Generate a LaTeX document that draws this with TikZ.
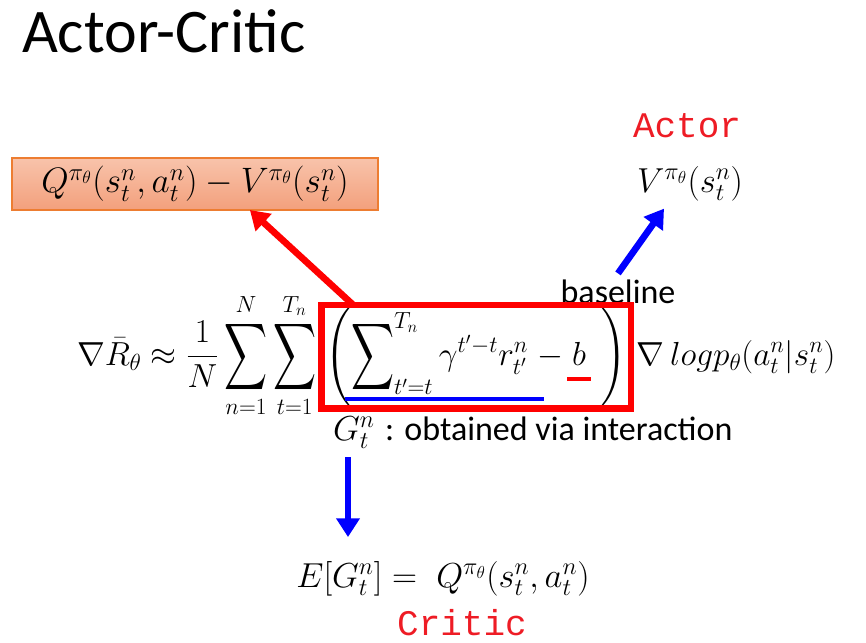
\RequirePackage{fix-cm}
\documentclass[tikz,border=0pt]{standalone}
\usepackage{amsmath}
\usepackage{graphicx}
\usepackage{fontspec}
\newfontfamily\calib{Carlito}
\newfontfamily\cour{Liberation Mono}
\usetikzlibrary{arrows.meta,fit,calc}
\definecolor{ortop}{HTML}{F8C3AB}
\definecolor{orbot}{HTML}{F3A07C}
\definecolor{orborder}{HTML}{ED7D31}
\definecolor{actred}{HTML}{EE1C25}
\newcommand{\BigSum}{\mathop{\vcenter{\hbox{\scalebox{0.9}[1.4]{$\displaystyle\sum$}}}}}
\newcommand{\SumPh}{\vphantom{\BigSum\nolimits_{t'=t}^{T_n}}}
\begin{document}
\begin{tikzpicture}[x=0.75pt,y=-0.75pt,
  every node/.style={inner sep=0pt, outer sep=0pt},
  mth/.style={font=\fontsize{26}{30}\selectfont},
  mthm/.style={font=\fontsize{25}{30}\selectfont},
  sans/.style={font=\calib\fontsize{25.5}{30}\selectfont},
  mono/.style={font=\cour\fontsize{27}{32}\selectfont, text=actred},
  orbox/.style={draw=orborder, line width=0.8pt, top color=ortop, bottom color=orbot,
                minimum width=274.5pt, minimum height=39pt, font=\fontsize{26.5}{30}\selectfont},
  thickarrow/.style={line width=5pt, -{Triangle[length=14pt,width=17pt]}}]
\useasboundingbox (0,0) rectangle (866,642);

\node[anchor=base west, font=\calib\fontsize{46.5}{50}\selectfont] (title) at (22,53) {Actor-Critic};

\node[orbox] (adv) at (195,184) {$Q^{\pi_\theta}(s^n_t,a^n_t)-V^{\pi_\theta}(s^n_t)$};

\node[mono, anchor=base] (actor) at (687,137) {Actor};
\node[mth, anchor=base] (vpi) at (690,192) {$V^{\pi_\theta}(s^n_t)$};
\node[sans, anchor=base] (basel) at (618,303) {baseline};

% main formula
\node[mthm, anchor=base west] (lhs) at (77,365)
  {$\nabla\bar{R}_\theta\approx\dfrac{1}{N}\BigSum\limits_{n=1}^{N}\BigSum\limits_{t=1}^{T_n}$};
\node[mthm, anchor=base west] (lp) at ($(lhs.base east)+(9,0)$) {$\left(\SumPh\right.$};
\node[mthm, anchor=base west] (G) at ($(lp.base east)+(-2,0)$) {$\BigSum\nolimits_{t'=t}^{T_n}\gamma^{t'-t}r^{n}_{t'}$};
\node[mthm, anchor=base west] (minus) at ($(G.base east)+(9,0)$) {$-$};
\node[mthm, anchor=base west] (b) at ($(minus.base east)+(9,0)$) {$b$};
\node[mthm, anchor=base west] (rp) at ($(b.base east)+(13,0)$) {$\left.\SumPh\right)$};
\node[mthm, anchor=base west] (rest) at ($(rp.base east)+(10,0)$) {$\nabla\,logp_\theta(a^n_t|s^n_t)$};

\node[draw=red, line width=5pt, fit={(lp)(rp)}, inner xsep=3pt, inner ysep=1.5pt] (redbox) {};

\coordinate (ul1) at ($(G.south west)+(-6,4)$);
\coordinate (ul2) at ($(G.south east)+(16,4)$);
\draw[blue, line width=3pt] (ul1) -- (ul2);
\coordinate (bl1) at ($(b.base west)+(-5,14)$);
\coordinate (bl2) at ($(b.base east)+(5,14)$);
\draw[red, line width=2.5pt] (bl1) -- (bl2);

\node[mth, anchor=base west] (Gt) at (333,440) {$G^n_t$ {\calib\fontsize{25.5}{30}\selectfont : obtained via interaction}};

\node[mth, anchor=base] (exp) at (443,587) {$E[G^n_t]=\;Q^{\pi_\theta}(s^n_t,a^n_t)$};
\node[mono, anchor=base] (critic) at (462,635) {Critic};

% arrows
\draw[thickarrow, red] ($(redbox.north west)+(32,0)$) -- ($(adv.south west)!0.65!(adv.south east)$);
\draw[thickarrow, blue] ($(basel.north)+(0,-6)$) -- ($(vpi.south)+(-26,8)$);
\draw[thickarrow, blue] ($(Gt.base west)+(15,17)$) -- ($(Gt.base west |- exp.north)+(15,-24)$);
\end{tikzpicture}
\end{document}
